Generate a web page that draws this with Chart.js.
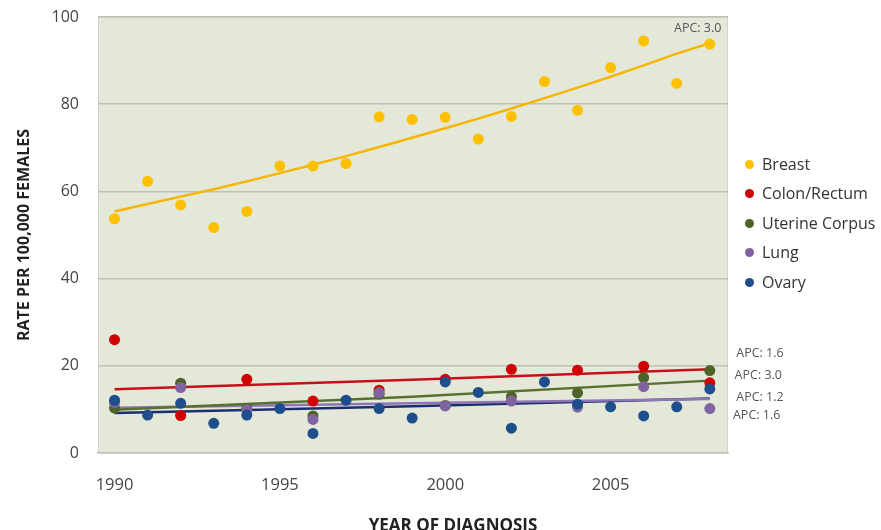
<!DOCTYPE html>
<html>
<head>
<meta charset="utf-8">
<script src="https://cdn.jsdelivr.net/npm/chart.js@4.4.1/dist/chart.umd.min.js"></script>
<style>
  html, body { margin: 0; padding: 0; background: #fff; }
  #wrap { position: relative; width: 881px; height: 530px; }
  #legend { position: absolute; left: 745px; top: 152px; font-family: "Open Sans", sans-serif; font-size: 16px; color: #333; }
  #legend div { height: 29.4px; line-height: 24px; white-space: nowrap; }
  #legend span { display: inline-block; width: 9px; height: 9px; border-radius: 50%; margin-right: 8px; vertical-align: 1px; }
</style>
</head>
<body>
<div id="wrap">
  <canvas id="apcChart" width="881" height="530"></canvas>
  <div id="legend"></div>
</div>
<script>
// years
const allYears = [1990, 1991, 1992, 1993, 1994, 1995, 1996, 1997, 1998, 1999,
  2000, 2001, 2002, 2003, 2004, 2005, 2006, 2007, 2008];
const evenYears = [1990, 1992, 1994, 1996, 1998, 2000, 2002, 2004, 2006, 2008];
const trendYears = [1990, 1999, 2008];
const xTicks = [1990, 1995, 2000, 2005];

// observed rates per 100,000
const breastRate = [53.7, 62.3, 56.9, 51.7, 55.4, 65.8, 65.8, 66.4, 77.1, 76.5,
  77.0, 72.0, 77.2, 85.2, 78.6, 88.4, 94.5, 84.8, 93.8];
const colonRate = [26.0, 8.6, 16.9, 11.9, 14.4, 16.9, 19.2, 19.0, 19.9, 16.1];
const uterineRate = [10.3, 16.0, 10.2, 8.5, 13.5, 10.9, 12.9, 13.8, 17.3, 18.9];
const lungRate = [11.6, 15.0, 9.9, 7.7, 13.8, 10.8, 11.9, 10.5, 15.2, 10.2];
const ovaryRate = [12.1, 8.7, 11.4, 6.8, 8.7, 10.2, 4.5, 12.1, 10.2, 8.0,
  16.3, 13.9, 5.7, 16.3, 11.2, 10.6, 8.5, 10.6, 14.7];

// fitted trends
const breastTrend = [55.4, 57.1, 58.8, 60.5, 62.3, 64.2, 66.1, 68.1, 70.2, 72.3,
  74.5, 76.7, 79.0, 81.4, 83.8, 86.3, 88.9, 91.6, 94.0];
const colonTrend = [14.6, 16.8, 19.2];
const uterineTrend = [9.9, 12.9, 16.6];
const lungTrend = [10.4, 11.4, 12.4];
const ovaryTrend = [9.2, 10.7, 12.5];

// APC labels: [text, x year, y value, align]
const apcLabels = [
  ["APC: 3.0", 2008.35, 97.3, "right"],
  ["APC: 1.6", 2008.8, 22.9, "left"],
  ["APC: 3.0", 2008.75, 17.9, "left"],
  ["APC: 1.2", 2008.8, 12.8, "left"],
  ["APC: 1.6", 2008.7, 8.7, "left"],
];

const series = [
  { name: "Breast", color: "#FFC000", line: "#F7B500", years: allYears, rate: breastRate, tYears: allYears, trend: breastTrend },
  { name: "Colon/Rectum", color: "#D00000", line: "#C8101A", years: evenYears, rate: colonRate, tYears: trendYears, trend: colonTrend },
  { name: "Uterine Corpus", color: "#4F6228", line: "#587030", years: evenYears, rate: uterineRate, tYears: trendYears, trend: uterineTrend },
  { name: "Lung", color: "#8064A2", line: "#8E76B4", years: evenYears, rate: lungRate, tYears: trendYears, trend: lungTrend },
  { name: "Ovary", color: "#1F4E8C", line: "#1B2F6E", years: allYears, rate: ovaryRate, tYears: trendYears, trend: ovaryTrend },
];

const toPoints = (xs, ys) => xs.map((x, i) => ({ x: x, y: ys[i] }));

const datasets = [];
series.forEach((s, i) => {
  datasets.push({
    label: s.name,
    data: toPoints(s.years, s.rate),
    backgroundColor: s.color,
    borderColor: s.color,
    pointRadius: 5.5,
    pointHoverRadius: 5.5,
    borderWidth: 0,
    order: 10 - i,
  });
  datasets.push({
    label: s.name + " trend",
    data: toPoints(s.tYears, s.trend),
    showLine: true,
    borderColor: s.line,
    borderWidth: 2.5,
    pointRadius: 0,
    fill: false,
    order: 20 + i,
  });
});

/** plot background */
const plotBg = {
  id: "plotBg",
  beforeDraw(chart) {
    const { ctx, chartArea: a } = chart;
    ctx.save();
    ctx.fillStyle = "#E3E8D8";
    ctx.fillRect(a.left, a.top, a.right - a.left, a.bottom - a.top);
    ctx.strokeStyle = "#D2D4CC";
    ctx.lineWidth = 1;
    ctx.strokeRect(a.left + 0.5, a.top + 0.5, a.right - a.left - 1, a.bottom - a.top - 1);
    ctx.restore();
  },
};

/** APC labels + x title */
const extraText = {
  id: "extraText",
  afterDraw(chart) {
    const { ctx, scales } = chart;
    ctx.save();
    ctx.fillStyle = "#555";
    ctx.font = "12.5px 'Open Sans', sans-serif";
    ctx.textBaseline = "middle";
    apcLabels.forEach(([t, xv, yv, align]) => {
      ctx.textAlign = align;
      ctx.fillText(t, scales.x.getPixelForValue(xv), scales.y.getPixelForValue(yv));
    });
    ctx.fillStyle = "#222";
    ctx.font = "bold 17px 'Open Sans', sans-serif";
    ctx.textAlign = "center";
    ctx.textBaseline = "alphabetic";
    ctx.fillText("YEAR OF DIAGNOSIS", 453, 531);
    ctx.restore();
  },
};

Chart.defaults.font.family = "'Open Sans', sans-serif";

new Chart(document.getElementById("apcChart"), {
  type: "scatter",
  data: { datasets: datasets },
  options: {
    responsive: false,
    animation: false,
    layout: { padding: { top: 17, right: 153, left: 0, bottom: 0 } },
    scales: {
      x: {
        type: "linear",
        min: 1989.5,
        max: 2008.55,
        afterBuildTicks: (axis) => { axis.ticks = xTicks.map((v) => ({ value: v })); },
        afterFit: (scale) => {
          scale.height = 77;
          scale.paddingLeft = 0;
          scale.paddingRight = 0;
        },
        grid: { display: false, drawTicks: false },
        border: { display: true, color: "#BFC1B8", width: 1.5 },
        ticks: { color: "#444", font: { size: 16.5 }, padding: 22, callback: (v) => String(v) },
      },
      y: {
        min: 0,
        max: 100,
        afterFit: (scale) => {
          scale.width = 98;
          scale.paddingTop = 0;
          scale.paddingBottom = 0;
        },
        ticks: { stepSize: 20, color: "#444", font: { size: 16 }, padding: 19 },
        grid: { color: "#BFC1B8", lineWidth: 1.5, drawTicks: false },
        border: { display: false },
        title: {
          display: true,
          text: "RATE PER 100,000 FEMALES",
          color: "#222",
          font: { size: 16, weight: "bold" },
          padding: { top: 15, bottom: 0 },
        },
      },
    },
    plugins: {
      legend: { display: false },
      tooltip: { enabled: false },
    },
  },
  plugins: [plotBg, extraText],
});

// HTML legend
const legendEl = document.getElementById("legend");
series.forEach((s) => {
  const row = document.createElement("div");
  row.innerHTML = `<span style="background:${s.color}"></span>${s.name}`;
  legendEl.appendChild(row);
});
</script>
</body>
</html>
